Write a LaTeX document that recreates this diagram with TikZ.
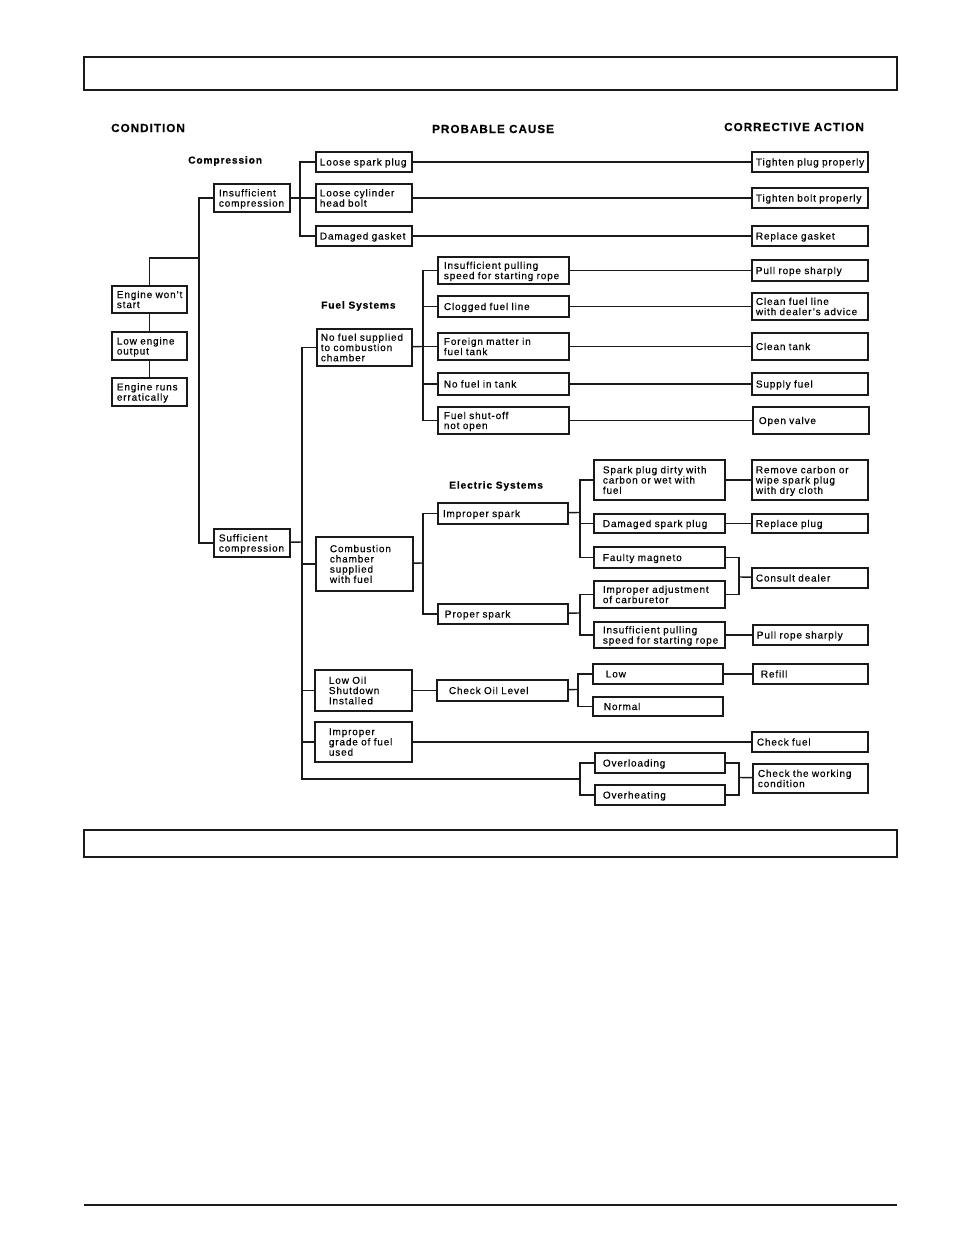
\documentclass[tikz,border=0pt]{standalone}
\usepackage{fontspec}
\setmainfont{Liberation Sans}[LetterSpace=8.5, FakeBold=0.35]
\definecolor{ChartInk}{HTML}{1A1A1A}
\newcommand\cl[1]{\raisebox{-1.5pt}[\height][\depth]{\begin{tabular}{@{}l@{}}#1\end{tabular}}}

\tikzset{
  cbox/.style n args={3}{draw=ChartInk, line width=1.8pt, anchor=north west,
    inner xsep=#3pt, inner ysep=0pt, minimum height=#2pt,
    /utils/exec={\pgfmathsetmacro\cboxtw{#1-2*#3}}, text width=\cboxtw pt,
    font=\fontsize{10}{10}\selectfont},
  head/.style={anchor=west, inner sep=0pt, font=\bfseries\fontsize{11.7}{12}\selectfont},
  group/.style={anchor=west, inner sep=0pt, font=\bfseries\fontsize{10.2}{10}\selectfont},
  wire/.style={draw=ChartInk, line width=1.4pt}
}

\begin{document}
\begin{tikzpicture}[x=1pt, y=-1pt]
  \useasboundingbox (0,0) rectangle (954,1235);
  % page frames
  \draw[ChartInk, line width=1.8pt] (84,57) rectangle (897,90);
  \draw[ChartInk, line width=1.8pt] (84,830) rectangle (897,857);
  \draw[ChartInk, line width=1.5pt] (84,1205) -- (897,1205);

  % column heads and group titles
  \node[head] (hcond) at (111,128) {CONDITION};
  \node[head] (hcause) at (432,129) {PROBABLE CAUSE};
  \node[head] (hact) at (724,127) {CORRECTIVE ACTION};
  \node[group] (gcomp) at (188,161) {Compression};
  \node[group] (gfuel) at (321,306) {Fuel Systems};
  \node[group] (gelec) at (449,486) {Electric Systems};

  % condition
  \node[cbox={75}{27}{5}] (wont) at (111,285) {\cl{Engine won't\\start}};
  \node[cbox={75}{28}{5}] (low) at (111,331) {\cl{Low engine\\output}};
  \node[cbox={75}{28}{5}] (errat) at (111,377) {\cl{Engine runs\\erratically}};

  % compression
  \node[cbox={76}{28}{5}] (insuf) at (213,183) {\cl{Insufficient\\compression}};
  \node[cbox={76}{28}{5}] (suf) at (213,528) {\cl{Sufficient\\compression}};
  \node[cbox={96}{20}{4}] (plug) at (315,151) {\cl{Loose spark plug}};
  \node[cbox={96}{28}{4}] (bolt) at (315,183) {\cl{Loose cylinder\\head bolt}};
  \node[cbox={96}{20}{4}] (gasket) at (315,225) {\cl{Damaged gasket}};
  \node[cbox={116}{20}{4}] (tplug) at (751,151) {\cl{Tighten plug properly}};
  \node[cbox={116}{20}{4}] (tbolt) at (751,187) {\cl{Tighten bolt properly}};
  \node[cbox={116}{20}{4}] (rgask) at (751,225) {\cl{Replace gasket}};

  % fuel systems
  \node[cbox={95}{37}{4}] (nofuel) at (316,328) {\cl{No fuel supplied\\to combustion\\chamber}};
  \node[cbox={131}{27}{6}] (pull) at (437,256) {\cl{Insufficient pulling\\speed for starting rope}};
  \node[cbox={131}{21}{6}] (clog) at (437,295) {\cl{Clogged fuel line}};
  \node[cbox={131}{27}{6}] (foreign) at (437,332) {\cl{Foreign matter in\\fuel tank}};
  \node[cbox={131}{22}{6}] (empty) at (437,372) {\cl{No fuel in tank}};
  \node[cbox={131}{27}{6}] (shut) at (437,406) {\cl{Fuel shut-off\\not open}};
  \node[cbox={116}{21}{4}] (rope) at (751,259) {\cl{Pull rope sharply}};
  \node[cbox={116}{27}{4}] (cline) at (751,292) {\cl{Clean fuel line\\with dealer's advice}};
  \node[cbox={116}{27}{4}] (ctank) at (751,332) {\cl{Clean tank}};
  \node[cbox={116}{22}{4}] (supply) at (751,372) {\cl{Supply fuel}};
  \node[cbox={116}{27}{6}] (valve) at (752,406) {\cl{Open valve}};

  % sufficient compression
  \node[cbox={97}{54}{14}] (comb) at (315,536) {\cl{Combustion\\chamber\\supplied\\with fuel}};
  \node[cbox={97}{41}{14}] (oil) at (314,669) {\cl{Low Oil\\Shutdown\\Installed}};
  \node[cbox={97}{40}{14}] (grade) at (314,721) {\cl{Improper\\grade of fuel\\used}};

  % electric systems
  \node[cbox={130}{21}{5}] (improper) at (437,502) {\cl{Improper spark}};
  \node[cbox={130}{20}{7}] (proper) at (437,603) {\cl{Proper spark}};
  \node[cbox={131}{40}{9}] (dirty) at (593,459) {\cl{Spark plug dirty with\\carbon or wet with\\fuel}};
  \node[cbox={131}{19}{9}] (dplug) at (593,513) {\cl{Damaged spark plug}};
  \node[cbox={131}{21}{9}] (magneto) at (593,546) {\cl{Faulty magneto}};
  \node[cbox={131}{27}{9}] (carb) at (593,580) {\cl{Improper adjustment\\of carburetor}};
  \node[cbox={131}{26}{9}] (pull2) at (593,621) {\cl{Insufficient pulling\\speed for starting rope}};
  \node[cbox={116}{40}{4}] (carbon) at (751,459) {\cl{Remove carbon or\\wipe spark plug\\with dry cloth}};
  \node[cbox={116}{19}{4}] (rplug) at (751,513) {\cl{Replace plug}};
  \node[cbox={116}{20}{4}] (dealer) at (751,567) {\cl{Consult dealer}};
  \node[cbox={115}{20}{4}] (rope2) at (752,624) {\cl{Pull rope sharply}};

  % oil level
  \node[cbox={131}{21}{12}] (level) at (436,679) {\cl{Check Oil Level}};
  \node[cbox={130}{20}{13}] (olow) at (592,663) {\cl{Low}};
  \node[cbox={130}{19}{11}] (onorm) at (592,696) {\cl{Normal}};
  \node[cbox={115}{20}{8}] (refill) at (752,663) {\cl{Refill}};
  \node[cbox={116}{20}{5}] (cfuel) at (751,731) {\cl{Check fuel}};

  % working load
  \node[cbox={130}{20}{8}] (overl) at (594,752) {\cl{Overloading}};
  \node[cbox={130}{20}{8}] (overh) at (594,784) {\cl{Overheating}};
  \node[cbox={115}{29}{5}] (work) at (752,763) {\cl{Check the working\\condition}};

  % junctions
  \coordinate (j0) at (199,258);   \coordinate (j1) at (300,197);
  \coordinate (j2) at (302,542);   \coordinate (j3) at (423,346.5);
  \coordinate (j4) at (423,563);   \coordinate (j5) at (580,512.5);
  \coordinate (j6) at (580,613);   \coordinate (j7) at (739,577);
  \coordinate (j8) at (578,689.5); \coordinate (j9) at (302,779);
  \coordinate (j10) at (580,779);  \coordinate (j11) at (739,777.5);

  % connectors
  \draw[wire] (wont.north) |- (j0);
  \draw[wire] (wont) -- (low) -- (errat);
  \draw[wire] (insuf.west) -| (j0) |- (suf.west);
  \draw[wire] (insuf) -- (bolt);
  \draw[wire] (plug.west) -| (j1) |- (gasket.west);
  \draw[wire] (plug) -- (tplug); \draw[wire] (bolt) -- (tbolt); \draw[wire] (gasket) -- (rgask);

  \draw[wire] (suf) -- (j2);
  \draw[wire] (nofuel.west) -| (j9) -- (j10);
  \draw[wire] (comb) -- (comb.west -| j2);
  \draw[wire] (oil) -- (oil.west -| j2);
  \draw[wire] (grade) -- (grade.west -| j2);
  \draw[wire] (grade) -- (cfuel);

  \draw[wire] (nofuel) -- (j3);
  \draw[wire] (pull.west) -| (j3) |- (shut.west);
  \draw[wire] (clog) -- (clog.west -| j3); \draw[wire] (foreign) -- (foreign.west -| j3);
  \draw[wire] (empty) -- (empty.west -| j3);
  \draw[wire] (pull) -- (rope); \draw[wire] (clog) -- (cline); \draw[wire] (foreign) -- (ctank);
  \draw[wire] (empty) -- (supply); \draw[wire] (shut) -- (valve);

  \draw[wire] (comb) -- (j4);
  \draw[wire] (improper.west) -| (j4) |- (proper.west);
  \draw[wire] (improper) -- (j5);
  \draw[wire] (dirty.west) -| (j5) |- (magneto.west);
  \draw[wire] (dplug) -- (dplug.west -| j5);
  \draw[wire] (proper) -- (j6);
  \draw[wire] (carb.west) -| (j6) |- (pull2.west);
  \draw[wire] (dirty) -- (carbon); \draw[wire] (dplug) -- (rplug);
  \draw[wire] (magneto.east) -| (j7) |- (carb.east);
  \draw[wire] (j7) -- (dealer); \draw[wire] (pull2) -- (rope2);

  \draw[wire] (oil) -- (level); \draw[wire] (level) -- (j8);
  \draw[wire] (olow.west) -| (j8) |- (onorm.west);
  \draw[wire] (olow) -- (refill);

  \draw[wire] (overl.west) -| (j10) |- (overh.west);
  \draw[wire] (overl.east) -| (j11) |- (overh.east);
  \draw[wire] (j11) -- (work);
\end{tikzpicture}
\end{document}
